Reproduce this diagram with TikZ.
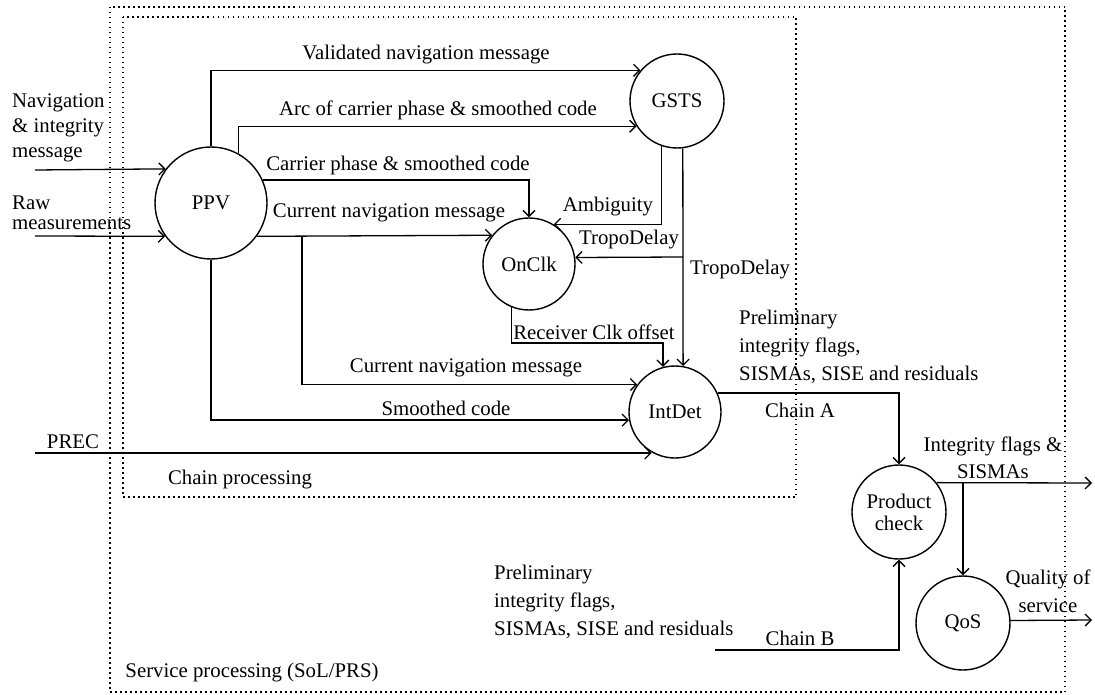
\documentclass[tikz,border=0pt]{standalone}
\usepackage{fontspec}
\setmainfont{Liberation Serif}
\usetikzlibrary{arrows.meta}
\begin{document}
\begin{tikzpicture}[x=1pt,y=-1pt,
  every node/.style={font=\fontsize{20.8}{28}\selectfont},
  proc/.style={draw, circle, line width=1.4pt, inner sep=0pt, align=center},
  conn/.style={draw, line width=1.3pt, -{Straight Barb[length=6pt,width=12pt,line width=1.3pt]}},
  lbl/.style={inner sep=0pt, align=center},
  lbll/.style={inner sep=0pt, align=left, anchor=west},
  region/.style={draw, line width=1.5pt, dash pattern=on 1.5pt off 3.5pt}]
\useasboundingbox (0,0) rectangle (1095,695);
% regions
\draw[region] (110,7) rectangle (1065,692);
\draw[region] (123,17) rectangle (796,497);
\node[lbl] (chainproc) at (240,480) {Chain processing};
\node[lbl] (servproc) at (252,673) {Service processing (SoL/PRS)};
% processes
\node[proc, minimum size=112pt] (ppv) at (211,203) {PPV};
\node[proc, minimum size=94pt] (gsts) at (677,101) {GSTS};
\node[proc, minimum size=92pt] (onclk) at (529,264) {OnClk};
\node[proc, minimum size=92pt] (intdet) at (675,412) {IntDet};
\node[proc, minimum size=94pt] (pc) at (899,512) {Product\\[-6pt]check};
\node[proc, minimum size=94pt] (qos) at (963,623) {QoS};
% free ends
\coordinate (navin) at (35,170);
\coordinate (rawin) at (35,236);
\coordinate (precin) at (35,453);
\coordinate (b1) at (302,236);
\coordinate (b2) at (683,257);
\coordinate (rc) at (0,343);
\coordinate (cb) at (715,650);
\coordinate (b3) at (963,483);
\coordinate (pcout) at (1092,483);
\coordinate (qosout) at (1092,620);
% inputs
\node[lbll, font=\fontsize{20.8}{25}\selectfont] (navlbl) at (12,128) {Navigation\\\& integrity\\message};
\node[lbll, font=\fontsize{20.8}{20}\selectfont] (rawlbl) at (12,213) {Raw\\measurements};
\node[lbl] (preclbl) at (73,442) {PREC};
\draw[conn] (navin) -- (ppv.143.9);
\draw[conn] (rawin) -- (ppv.216.1);
\draw[conn] (precin) -- (precin -| intdet.240);
% PPV outputs
\draw[conn] (ppv.90) |- (gsts.140.3);
\node[lbl] (vallbl) at (426,55) {Validated navigation message};
\draw[conn] (ppv.61.2) |- (gsts.212.1);
\node[lbl] (arclbl) at (438,110) {Arc of carrier phase \& smoothed code};
\draw[conn] (ppv.24.2) -| (onclk.90);
\node[lbl] (cpslbl) at (398,165) {Carrier phase \& smoothed code};
\draw[conn] (ppv.-36.1) -- (onclk.142.5);
\node[lbl] (cnm1lbl) at (389,213) {Current navigation message};
\draw[conn] (b1) |- (intdet.144.1);
\node[lbl] (cnm2lbl) at (466,368) {Current navigation message};
\draw[conn] (ppv.270) |- (intdet.190);
\node[lbl] (smlbl) at (446,408) {Smoothed code};
% GSTS outputs
\draw[conn] (gsts.251.4) |- (onclk.58);
\node[lbl] (amblbl) at (608,207) {Ambiguity};
\draw[conn] (gsts.277.3) -- (intdet.80);
\draw[conn] (b2) -- (onclk.8.75);
\node[lbl] (tropo1) at (629,240) {TropoDelay};
\node[lbl, anchor=west] (tropo2) at (690,270) {TropoDelay};
% OnClk output
\draw[conn] (onclk.248.3) |- (rc -| intdet.105.1) -- (intdet.105.1);
\node[lbl] (rclbl) at (594,332) {Receiver Clk offset};
% Chain A / B
\draw[conn] (intdet.24.4) -| (pc.90);
\node[lbll] (prel1) at (739,347) {Preliminary\\integrity flags,\\SISMAs, SISE and residuals};
\node[lbl] (chainA) at (800,410) {Chain A};
\draw[conn] (cb) -| (pc.270);
\node[lbll] (prel2) at (494,602) {Preliminary\\integrity flags,\\SISMAs, SISE and residuals};
\node[lbl] (chainB) at (800,638) {Chain B};
% outputs
\draw[conn] (pc.38.1) -- (pcout);
\draw[conn] (b3) -- (qos.90);
\node[lbl, font=\fontsize{20.8}{27}\selectfont] (iflbl) at (993,458) {Integrity flags \&\\SISMAs};
\draw[conn] (qos.3.7) -- (qosout);
\node[lbl] (qoslbl) at (1048,591) {Quality of\\service};
\end{tikzpicture}
\end{document}
